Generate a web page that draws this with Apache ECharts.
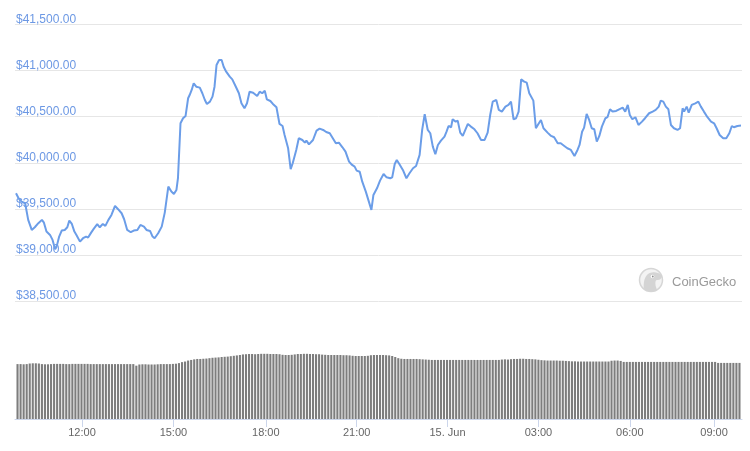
<!DOCTYPE html>
<html>
<head>
<meta charset="utf-8">
<script src="https://cdn.jsdelivr.net/npm/echarts@6/dist/echarts.min.js"></script>
<style>
html,body{margin:0;padding:0;background:#fff;}
#chart{width:750px;height:451px;}
</style>
</head>
<body>
<div id="chart"></div>
<script>
// Times are minutes since 00:00 on 14 Jun (ordinal-style axis); series start at 09:50.
const START_MINUTE = 590;
const priceOffsets = [0,5,11,18,24,31,37,44,51,55,60,67,72,77,80,85,90,96,101,105,110,115,119,126,132,138,142,148,153,160,165,171,176,182,188,195,201,208,213,219,226,232,239,245,252,257,264,269,273,280,287,293,300,306,311,316,319,324,329,334,339,342,346,350,355,362,367,372,376,382,387,391,395,400,405,409,414,421,426,433,439,444,450,455,460,467,475,480,485,490,494,501,506,513,519,525,529,536,541,545,552,557,564,569,572,577,585,592,598,605,611,618,624,630,636,643,649,656,662,667,671,677,682,689,695,700,704,711,717,724,730,737,741,746,750,755,762,769,775,782,788,795,800,805,811,816,821,826,831,837,844,848,852,857,860,866,870,875,880,885,890,896,903,909,916,923,929,934,939,946,951,957,964,970,975,980,985,990,995,1001,1006,1011,1019,1024,1029,1034,1039,1047,1054,1060,1067,1073,1080,1086,1093,1100,1106,1110,1115,1119,1124,1129,1134,1139,1144,1149,1154,1161,1165,1170,1175,1182,1188,1195,1200,1205,1209,1214,1220,1226,1233,1239,1247,1254,1260,1266,1270,1275,1280,1285,1290,1296,1303,1308,1313,1316,1321,1325,1331,1338,1344,1349,1355,1362,1369,1375,1380,1386,1393,1399,1405,1410,1414,1421,1428];
const priceValues = [39669,39615,39578,39561,39380,39271,39300,39344,39380,39350,39253,39217,39163,39062,39090,39199,39264,39271,39300,39372,39336,39253,39217,39144,39181,39199,39188,39242,39282,39333,39300,39336,39315,39380,39434,39532,39496,39452,39387,39271,39246,39264,39271,39325,39307,39271,39260,39199,39181,39235,39307,39459,39741,39687,39662,39705,39832,40428,40483,40508,40700,40735,40790,40862,40825,40815,40754,40681,40638,40663,40717,40825,41061,41115,41115,41042,40988,40934,40905,40825,40754,40645,40591,40645,40771,40760,40724,40771,40754,40782,40688,40670,40638,40602,40421,40399,40301,40157,39930,39995,40139,40266,40247,40218,40240,40200,40247,40348,40370,40356,40334,40320,40266,40211,40218,40168,40120,40012,39976,39958,39915,39903,39795,39687,39578,39488,39651,39723,39806,39878,39842,39832,39842,39987,40030,39987,39922,39832,39886,39940,39965,40085,40356,40526,40356,40320,40175,40092,40193,40240,40283,40337,40399,40385,40472,40446,40457,40327,40291,40356,40421,40392,40363,40320,40247,40247,40327,40518,40663,40681,40573,40555,40609,40627,40663,40472,40483,40555,40905,40880,40869,40754,40674,40374,40421,40464,40374,40327,40291,40277,40211,40211,40182,40157,40139,40074,40139,40193,40337,40381,40529,40464,40374,40363,40229,40291,40392,40483,40494,40580,40555,40562,40580,40598,40555,40627,40518,40472,40494,40410,40446,40483,40537,40555,40573,40609,40674,40663,40609,40580,40410,40374,40356,40374,40591,40555,40609,40544,40627,40645,40663,40609,40555,40494,40446,40428,40374,40301,40265,40265,40320,40399,40385,40399,40403];

// Volume bars (billions USD), one bar every 6 minutes from 09:50
const VOLUME_STEP = 6;
const volumeValues = [
27.8,27.8,27.7,27.8,
28.1,28.2,28.2,28.1,27.8,27.7,
27.7,27.8,27.9,27.9,27.9,27.9,27.8,27.8,27.9,27.9,27.9,27.9,27.9,27.9,27.8,27.8,27.8,27.8,27.8,27.8,27.8,27.8,27.8,27.8,27.8,27.8,27.8,27.8,27.8,
27.0,27.6,27.7,
27.7,27.6,27.6,27.6,27.7,27.8,27.8,27.8,27.8,27.9,28.0,
28.3,
28.8,29.1,
29.6,29.9,
30.2,30.4,30.4,30.5,
30.6,30.8,31.0,31.1,
31.2,31.4,31.5,31.6,
31.8,32.0,32.2,32.4,
32.7,32.8,32.9,32.9,32.8,32.9,33.0,33.0,33.0,32.9,32.9,32.9,32.8,
32.5,32.4,32.4,32.5,32.7,32.9,
32.9,33.0,33.0,32.9,32.9,32.8,32.8,32.6,
32.5,32.4,32.4,32.4,32.4,32.4,32.3,32.3,32.2,
32.0,31.9,31.9,31.9,31.9,32.0,
32.3,32.4,32.4,32.4,32.4,32.3,32.2,
31.9,31.4,
30.8,30.5,30.4,30.4,30.4,30.4,30.4,30.3,30.2,30.1,30.0,
29.9,29.9,29.9,29.9,29.9,29.9,29.9,29.9,29.9,29.9,29.9,29.9,29.9,29.9,29.9,29.9,29.9,29.9,29.9,29.9,29.9,29.9,29.9,
30.1,30.2,30.1,30.3,30.4,30.4,
30.5,30.5,30.4,30.4,30.3,30.2,30.0,
29.8,29.7,29.6,29.6,29.6,29.6,29.5,29.5,29.4,29.3,29.2,29.2,
29.1,29.1,29.1,29.1,29.1,29.1,29.1,29.1,29.1,29.1,29.1,
29.5,29.6,29.6,29.4,
28.9,28.9,28.9,28.9,28.9,28.9,28.9,28.9,28.9,28.9,28.9,28.9,28.9,28.9,28.9,28.9,28.9,28.9,28.9,28.9,28.9,28.9,28.9,28.9,28.9,28.9,28.9,28.9,28.9,28.9,28.9,
28.4,28.4,28.4,28.4,28.4,28.4,28.4,28.4
];

// Tick positions on the (ordinal) time axis, as placed in the source chart
const timeTicks = [720, 900, 1082, 1261, 1440, 1619, 1799, 1965];
const timeTickLabels = ['12:00','15:00','18:00','21:00','15. Jun','03:00','06:00','09:00'];
const priceTicks = [38500, 39000, 39500, 40000, 40500, 41000, 41500];
const priceTickLabels = ['$38,500.00','$39,000.00','$39,500.00','$40,000.00','$40,500.00','$41,000.00','$41,500.00'];

const priceData = priceOffsets.map((o, i) => [START_MINUTE + o, priceValues[i]]);
const volumeData = volumeValues.map((v, i) => [START_MINUTE + VOLUME_STEP / 2 + i * VOLUME_STEP, v]);

const X_MIN = 588, X_MAX = 2020;
const FONT = '"Liberation Sans", Arial, Helvetica, sans-serif';

const chart = echarts.init(document.getElementById('chart'), null, {renderer: 'canvas'});
chart.setOption({
  animation: false,
  backgroundColor: '#ffffff',
  grid: [
    {left: 15, right: 8, top: 24.5, height: 276.5},
    {left: 15, right: 8, top: 340, height: 79}
  ],
  xAxis: [
    {type: 'value', gridIndex: 0, min: X_MIN, max: X_MAX,
     axisLine: {show: false}, axisTick: {show: false}, axisLabel: {show: false}, splitLine: {show: false}},
    {type: 'value', gridIndex: 1, min: X_MIN, max: X_MAX,
     axisLine: {show: true, lineStyle: {color: '#ccd6eb', width: 1}},
     axisTick: {show: true, customValues: timeTicks, length: 8, lineStyle: {color: '#ccd6eb'}},
     axisLabel: {show: true, customValues: timeTicks, margin: 8, color: '#666666', fontSize: 11, fontFamily: FONT,
       formatter: v => { const k = timeTicks.indexOf(v); return k >= 0 ? timeTickLabels[k] : ''; }},
     splitLine: {show: false}}
  ],
  yAxis: [
    {type: 'value', gridIndex: 0, min: 38500, max: 41500, interval: 500,
     axisLine: {show: false}, axisTick: {show: false},
     splitLine: {show: true, lineStyle: {color: '#e6e6e6', width: 1}},
     axisLabel: {inside: true, margin: 1, verticalAlign: 'bottom', lineHeight: 10, showMinLabel: true, showMaxLabel: true,
       color: '#6c98e4', fontSize: 12, fontFamily: FONT,
       formatter: v => { const k = priceTicks.indexOf(v); return k >= 0 ? priceTickLabels[k] : ''; }}},
    {type: 'value', gridIndex: 1, min: 0, max: 40, show: false, splitLine: {show: false}}
  ],
  graphic: [
    {type: 'circle', shape: {cx: 651, cy: 280, r: 11.5}, style: {fill: '#f3f3f3', stroke: '#d6d6d6', lineWidth: 1.5}, z: 10},
    {type: 'polygon', shape: {smooth: 0.35, points: [[645,290],[644,282],[647,275],[652,272.5],[658,273],[662,276],[660,279.5],[656,280.5],[655.5,285],[656.5,290.5]]},
     style: {fill: '#d4d4d4'}, z: 11},
    {type: 'circle', shape: {cx: 652.5, cy: 276.5, r: 1.8}, style: {fill: '#ffffff'}, z: 12},
    {type: 'circle', shape: {cx: 652.8, cy: 276.5, r: 0.9}, style: {fill: '#8a8a8a'}, z: 13},
    {type: 'text', x: 672, y: 282, style: {text: 'CoinGecko', fill: '#9a9a9a', fontSize: 13, fontFamily: FONT, verticalAlign: 'middle', textAlign: 'left'}, z: 10}
  ],
  series: [
    {type: 'line', xAxisIndex: 0, yAxisIndex: 0, data: priceData, showSymbol: false,
     lineStyle: {color: '#6b9de8', width: 2}, itemStyle: {color: '#6b9de8'}, z: 5},
    {type: 'bar', xAxisIndex: 1, yAxisIndex: 1, data: volumeData, barWidth: 2.1,
     itemStyle: {color: '#7d7d7d'}, z: 3}
  ]
});
</script>
</body>
</html>
